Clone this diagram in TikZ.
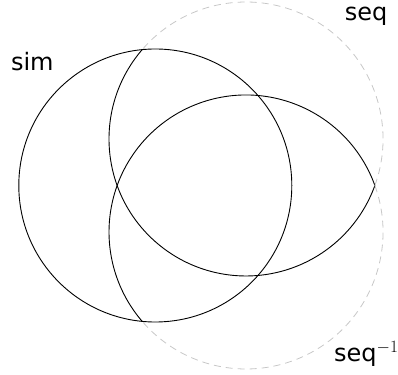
\documentclass[tikz,border=0pt]{standalone}
\usepackage{fontspec}
\setsansfont{DejaVu Sans}
\begin{document}
\begin{tikzpicture}[x=1pt,y=1pt,
  solidarc/.style={line width=0.9pt, draw=black},
  dasharc/.style={line width=0.8pt, draw=black!22, dash pattern=on 7pt off 5pt},
  lbl/.style={font=\fontsize{24}{28}\selectfont\sffamily, inner sep=0pt}]
\useasboundingbox (0,0) rectangle (398,374);
\coordinate (S) at (155.3,188.5);
\coordinate (P1) at (142.16,324.36);
\coordinate (P2) at (142.16,52.64);
\coordinate (L) at (374.87,188.5);
\draw[solidarc] (S) circle[radius=136.5pt];
\draw[solidarc] (P1) arc[start angle=139.29, end angle=340.16, radius=137pt];
\draw[solidarc] (L) arc[start angle=19.84, end angle=220.71, radius=137pt];
\draw[dasharc] (L) arc[start angle=-19.84, end angle=139.29, radius=137pt];
\draw[dasharc] (L) arc[start angle=19.84, end angle=-139.29, radius=137pt];
\node[lbl, anchor=base] (sim) at (32.3,303) {sim};
\node[lbl, anchor=base] (seq) at (366,353.3) {seq};
\node[lbl, anchor=base west] (seqinv) at (334,12.3) {seq$^{-1}$};
\end{tikzpicture}
\end{document}
